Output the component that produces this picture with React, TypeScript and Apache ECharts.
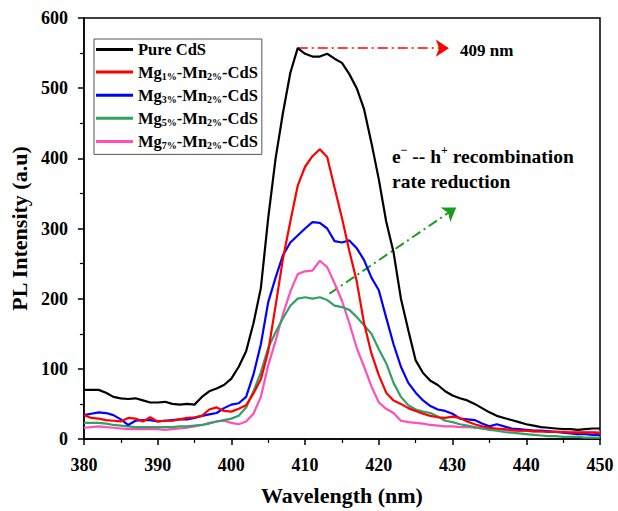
import React, { useEffect, useRef } from "react";
import * as echarts from "echarts";

const wavelengths = [
  380, 381, 382, 383, 384, 385, 386, 387, 388, 389, 390, 391, 392, 393, 394, 395, 396, 397, 398, 399,
  400, 401, 402, 403, 404, 405, 406, 407, 408, 409, 410, 411, 412, 413, 414, 415, 416, 417, 418, 419,
  420, 421, 422, 423, 424, 425, 426, 427, 428, 429, 430, 431, 432, 433, 434, 435, 436, 437, 438, 439,
  440, 441, 442, 443, 444, 445, 446, 447, 448, 449, 450,
];

const pureCdS = [
  70, 70, 70, 66, 60, 58, 57, 58, 55, 52, 52, 53, 50, 49, 50, 49, 60, 68, 72, 77,
  86, 103, 125, 165, 215, 315, 400, 465, 522, 557, 549, 545, 545, 549, 542, 536, 520, 500, 470, 422,
  370, 310, 266, 200, 155, 112, 94, 83, 77, 68, 62, 58, 55, 50, 44, 38, 33, 30, 27, 24,
  21, 19, 17, 16, 15, 14, 14, 13, 14, 15, 15,
];

const mg1 = [
  34, 30, 29, 27, 26, 25, 30, 29, 25, 31, 25, 26, 26, 28, 30, 31, 33, 42, 45, 40,
  39, 43, 48, 65, 85, 125, 190, 257, 310, 361, 388, 403, 413, 402, 358, 315, 268, 225, 165, 122,
  91, 66, 55, 50, 44, 40, 36, 33, 31, 30, 32, 30, 25, 21, 18, 16, 15, 14, 13, 12,
  12, 11, 11, 10, 10, 10, 9, 9, 9, 9, 8,
];

const mg3 = [
  34, 36, 38, 37, 34, 28, 20, 26, 27, 27, 25, 26, 27, 28, 28, 30, 33, 35, 37, 44,
  49, 51, 60, 92, 135, 195, 230, 262, 280, 290, 300, 309, 308, 300, 282, 280, 283, 272, 255, 230,
  212, 173, 135, 103, 80, 66, 55, 47, 42, 40, 36, 29, 28, 27, 22, 18, 21, 18, 15, 14,
  13, 12, 12, 11, 10, 9, 8, 7, 7, 6, 6,
];

const mg5 = [
  23, 23, 23, 22, 20, 19, 18, 17, 17, 17, 17, 17, 17, 18, 18, 19, 20, 22, 25, 27,
  29, 33, 45, 68, 95, 130, 152, 172, 190, 200, 202, 200, 202, 198, 190, 188, 184, 174, 162, 150,
  128, 108, 80, 60, 48, 42, 39, 37, 32, 26, 24, 21, 19, 17, 15, 13, 12, 10, 9, 8,
  7, 6, 5, 4, 4, 3, 3, 3, 2, 2, 2,
];

const mg7 = [
  16, 17, 18, 17, 16, 15, 14, 14, 14, 14, 14, 13, 14, 15, 16, 18, 20, 23, 25, 26,
  23, 21, 25, 36, 60, 105, 140, 178, 210, 235, 239, 240, 254, 245, 222, 197, 165, 130, 103, 75,
  52, 43, 37, 26, 24, 23, 22, 20, 19, 18, 18, 17, 17, 16, 15, 14, 14, 13, 12, 12,
  12, 11, 11, 11, 11, 10, 10, 10, 10, 10, 10,
];

const seriesNames = ["Pure CdS", "Mg1%-Mn2%-CdS", "Mg3%-Mn2%-CdS", "Mg5%-Mn2%-CdS", "Mg7%-Mn2%-CdS"];
const seriesValues = [pureCdS, mg1, mg3, mg5, mg7];
const seriesColors = ["#000000", "#ff0000", "#0000ff", "#33a064", "#ff4fb8"];
const legendSubs: Record<string, [string, string] | null> = {
  "Pure CdS": null,
  "Mg1%-Mn2%-CdS": ["1%", "2%"],
  "Mg3%-Mn2%-CdS": ["3%", "2%"],
  "Mg5%-Mn2%-CdS": ["5%", "2%"],
  "Mg7%-Mn2%-CdS": ["7%", "2%"],
};

const peakArrow = [[409, 557], [429.5, 557]];
const trendArrow = [[413.3, 207], [430.5, 330]];

const FONT = "'Liberation Serif', 'Times New Roman', serif";

export default function App() {
  const ref = useRef<HTMLDivElement>(null);

  useEffect(() => {
    if (!ref.current) return;
    const chart = echarts.init(ref.current, undefined, { renderer: "svg" });

    const series = seriesNames.map((name, i) => {
      const s: any = {
        name,
        type: "line",
        showSymbol: false,
        symbol: "none",
        data: wavelengths.map((w, j) => [w, seriesValues[i][j]]),
        lineStyle: { color: seriesColors[i], width: 2.2 },
        itemStyle: { color: seriesColors[i] },
        z: 10 - i,
      };
      if (i === 0) {
        s.markLine = {
          silent: true,
          symbol: ["none", "arrow"],
          symbolSize: 13,
          label: { show: false },
          lineStyle: { color: "#ff0000", width: 1.6, type: [10, 4, 2, 4] },
          data: [[{ coord: peakArrow[0] }, { coord: peakArrow[1] }]],
        };
      }
      if (i === 3) {
        s.markLine = {
          silent: true,
          symbol: ["none", "arrow"],
          symbolSize: 13,
          label: { show: false },
          lineStyle: { color: "#1c9a1c", width: 2, type: [10, 4, 2, 4] },
          data: [[{ coord: trendArrow[0] }, { coord: trendArrow[1] }]],
        };
      }
      return s;
    });

    const mainRich = {
      m: { fontFamily: FONT, fontWeight: "bold", fontSize: 16.5, color: "#000", lineHeight: 18 },
      s: {
        fontFamily: FONT,
        fontWeight: "bold",
        fontSize: 10,
        color: "#000",
        lineHeight: 11,
        verticalAlign: "bottom",
      },
    };

    chart.setOption({
      animation: false,
      backgroundColor: "#ffffff",
      grid: {
        left: 80,
        right: 18,
        top: 18,
        bottom: 70,
        show: true,
        borderColor: "#000",
        borderWidth: 1.5,
        backgroundColor: "transparent",
      },
      legend: {
        orient: "vertical",
        left: 94,
        top: 39,
        padding: [2, 4, 4, 2],
        itemGap: 5.6,
        itemWidth: 37,
        itemHeight: 3,
        icon: "rect",
        borderColor: "#555",
        borderWidth: 1,
        backgroundColor: "#fff",
        data: seriesNames,
        formatter: (name: string) => {
          const sub = legendSubs[name];
          if (!sub) return `{m|${name}}`;
          return `{m|Mg}{s|${sub[0]}}{m|-Mn}{s|${sub[1]}}{m|-CdS}`;
        },
        textStyle: {
          fontFamily: FONT,
          fontWeight: "bold",
          fontSize: 16.5,
          color: "#000",
          rich: mainRich,
        },
      },
      xAxis: {
        type: "value",
        min: 380,
        max: 450,
        interval: 10,
        name: "Wavelength (nm)",
        nameLocation: "middle",
        nameGap: 45,
        nameTextStyle: { fontFamily: FONT, fontWeight: "bold", fontSize: 22, color: "#000" },
        axisLine: { show: true, lineStyle: { color: "#000", width: 1.5 } },
        axisTick: { show: true, inside: false, length: 6, lineStyle: { color: "#000", width: 1.5 } },
        minorTick: { show: true, splitNumber: 2, length: 4, lineStyle: { color: "#000", width: 1.2 } },
        axisLabel: { fontFamily: FONT, fontWeight: "bold", fontSize: 18, color: "#000", margin: 17 },
        splitLine: { show: false },
      },
      yAxis: {
        type: "value",
        min: 0,
        max: 600,
        interval: 100,
        name: "PL Intensity (a.u)",
        nameLocation: "middle",
        nameGap: 47,
        nameTextStyle: { fontFamily: FONT, fontWeight: "bold", fontSize: 22, color: "#000" },
        axisLine: { show: true, lineStyle: { color: "#000", width: 1.5 } },
        axisTick: { show: true, inside: false, length: 6, lineStyle: { color: "#000", width: 1.5 } },
        minorTick: { show: true, splitNumber: 2, length: 4, lineStyle: { color: "#000", width: 1.2 } },
        axisLabel: { fontFamily: FONT, fontWeight: "bold", fontSize: 18, color: "#000", margin: 16 },
        splitLine: { show: false },
      },
      graphic: [
        {
          type: "text",
          left: 460,
          top: 42,
          style: {
            text: "409 nm",
            fontFamily: FONT,
            fontWeight: "bold",
            fontSize: 17,
            fill: "#000",
          },
        },
        {
          type: "text",
          left: 392,
          top: 144,
          style: {
            text: "{m|e}{p|−}{m| -- h}{p|+}{m| recombination}\n{m|rate reduction}",
            rich: {
              m: { fontFamily: FONT, fontWeight: "bold", fontSize: 19.5, fill: "#000", lineHeight: 25 },
              p: {
                fontFamily: FONT,
                fontWeight: "bold",
                fontSize: 12,
                fill: "#000",
                lineHeight: 16,
                verticalAlign: "top",
              },
            },
          },
        },
      ],
      series,
    });

    return () => {
      chart.dispose();
    };
  }, []);

  return (
    <div
      ref={ref}
      style={{ position: "fixed", left: 0, top: 0, width: 618, height: 511, background: "#fff" }}
    />
  );
}
